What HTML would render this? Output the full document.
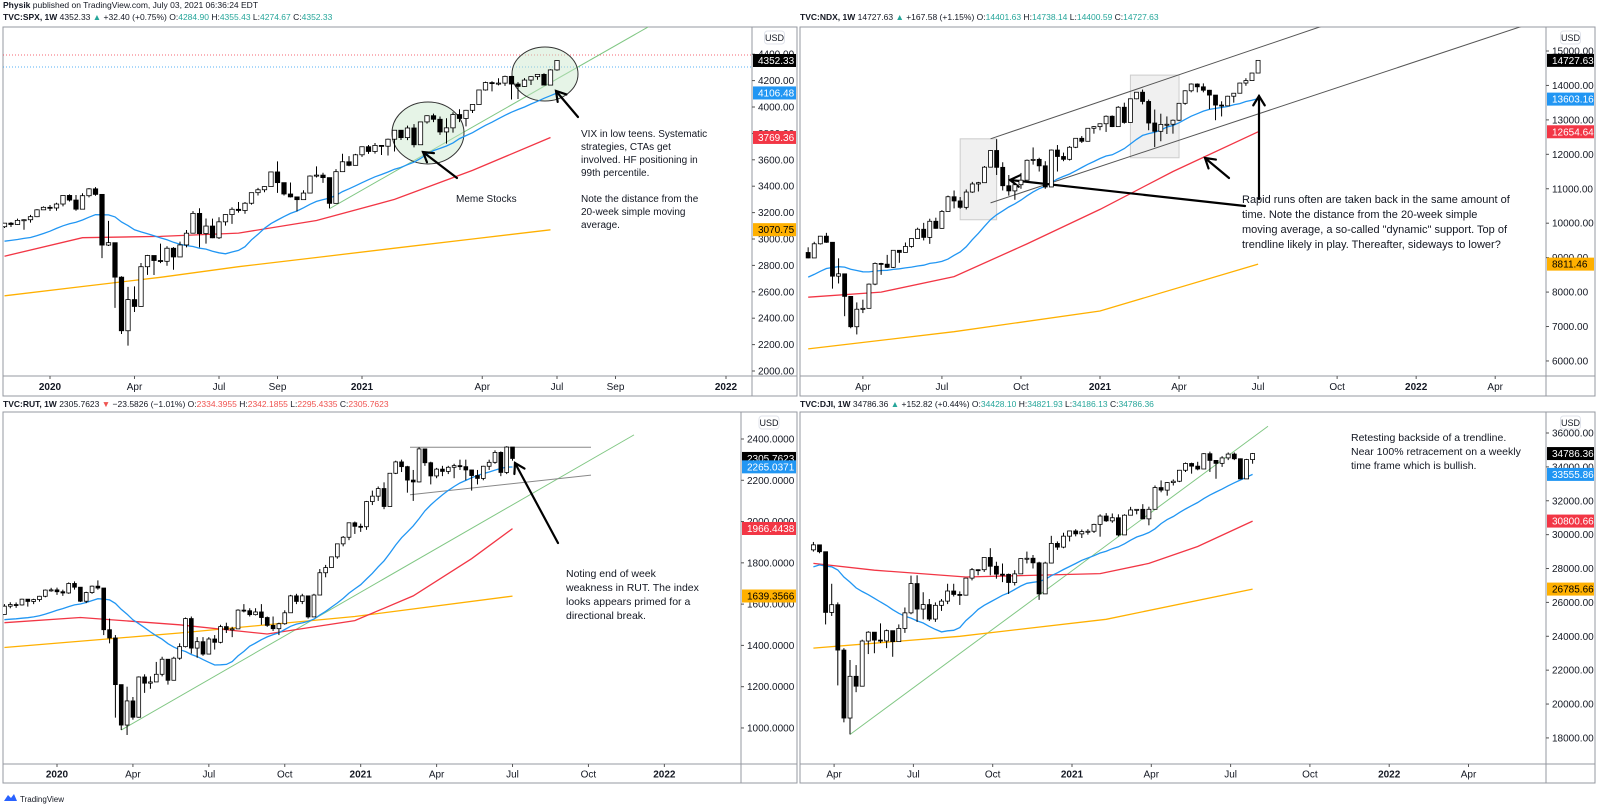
<!DOCTYPE html>
<html><head><meta charset="utf-8"><style>
html,body{margin:0;padding:0;background:#fff;width:1600px;height:805px;overflow:hidden}
svg{display:block;font-family:"Liberation Sans",Arial,sans-serif}
</style></head><body>
<svg id="c" width="1600" height="805" xmlns="http://www.w3.org/2000/svg">
<text x="3" y="8" font-size="8.5" fill="#131722"><tspan font-weight="bold">Physik</tspan> published on TradingView.com, July 03, 2021 06:36:24 EDT</text>
<text x="3" y="20" font-size="8.5" fill="#131722"><tspan font-weight="bold">TVC:SPX, 1W</tspan> 4352.33 <tspan fill="#26a69a">▲</tspan> +32.40 (+0.75%) O:<tspan fill="#26a69a">4284.90</tspan> H:<tspan fill="#26a69a">4355.43</tspan> L:<tspan fill="#26a69a">4274.67</tspan> C:<tspan fill="#26a69a">4352.33</tspan></text>
<text x="800" y="20" font-size="8.5" fill="#131722"><tspan font-weight="bold">TVC:NDX, 1W</tspan> 14727.63 <tspan fill="#26a69a">▲</tspan> +167.58 (+1.15%) O:<tspan fill="#26a69a">14401.63</tspan> H:<tspan fill="#26a69a">14738.14</tspan> L:<tspan fill="#26a69a">14400.59</tspan> C:<tspan fill="#26a69a">14727.63</tspan></text>
<text x="3" y="407" font-size="8.5" fill="#131722"><tspan font-weight="bold">TVC:RUT, 1W</tspan> 2305.7623 <tspan fill="#ef5350">▼</tspan> −23.5826 (−1.01%) O:<tspan fill="#ef5350">2334.3955</tspan> H:<tspan fill="#ef5350">2342.1855</tspan> L:<tspan fill="#ef5350">2295.4335</tspan> C:<tspan fill="#ef5350">2305.7623</tspan></text>
<text x="800" y="407" font-size="8.5" fill="#131722"><tspan font-weight="bold">TVC:DJI, 1W</tspan> 34786.36 <tspan fill="#26a69a">▲</tspan> +152.82 (+0.44%) O:<tspan fill="#26a69a">34428.10</tspan> H:<tspan fill="#26a69a">34821.93</tspan> L:<tspan fill="#26a69a">34186.13</tspan> C:<tspan fill="#26a69a">34786.36</tspan></text>
<g><path d="M4 801 l4 -6 l3 3 l3 -4 l3 7 z" fill="#2962ff"/><text x="20" y="802" font-size="8" fill="#131722">TradingView</text></g>
</svg>
<script>
// ===== SPX data (weekly, from Nov 15 2019) =====
const spxClose=[3120,3110,3141,3146,3169,3221,3240,3235,3265,3330,3295,3226,3328,3380,3338,2954,2972,2711,2305,2541,2489,2790,2875,2837,2831,2930,2864,2955,3044,3194,3041,3098,3009,3130,3185,3225,3216,3271,3351,3373,3397,3508,3427,3341,3319,3298,3348,3477,3484,3465,3270,3510,3585,3558,3638,3699,3663,3709,3703,3756,3824,3768,3841,3714,3887,3934,3907,3811,3842,3943,3913,3975,4019,4129,4185,4180,4181,4232,4174,4156,4204,4230,4247,4166,4281,4352.33];
const spxHigh=[3121,3128,3154,3150,3183,3226,3247,3258,3275,3330,3338,3333,3347,3385,3393,3259,3137,2882,2718,2637,2641,2818,2880,2870,2965,2945,2938,2980,3068,3211,3233,3155,3154,3165,3187,3240,3280,3280,3352,3387,3399,3509,3588,3425,3428,3320,3369,3482,3550,3502,3464,3529,3646,3628,3645,3701,3712,3727,3711,3760,3826,3823,3859,3870,3887,3937,3950,3928,3915,3960,3983,3978,4020,4130,4192,4195,4218,4238,4236,4188,4219,4233,4249,4256,4286,4355];
const spxLow=[3083,3091,3107,3070,3124,3166,3220,3212,3214,3247,3284,3214,3234,3315,3328,2855,2947,2478,2280,2192,2447,2497,2728,2727,2817,2797,2767,2900,2937,3044,2937,2965,3007,3000,3101,3115,3200,3191,3260,3330,3354,3398,3349,3330,3314,3209,3304,3357,3466,3425,3233,3279,3511,3551,3558,3622,3645,3647,3636,3633,3663,3750,3749,3694,3725,3874,3885,3789,3723,3806,3885,3853,3955,4020,4124,4118,4164,4160,4057,4061,4153,4167,4206,4164,4165,4275];
const spxPre=[2990,3013,2977,3026,2932,2919,2889,2847,2926,2979,3007,2992,2961,2952,2970,2986,3023,3067,3093];
const spxRedIdx=[0,12,24,36,48,60,72,84];
const spxRedVal=[2870,3010,3020,3045,3140,3300,3520,3769];
const spxOrgIdx=[0,12,24,36,48,60,72,84];
const spxOrgVal=[2570,2640,2710,2790,2860,2930,3000,3070];
const spxTicks=[2000,2200,2400,2600,2800,3000,3200,3400,3600,3800,4000,4200,4400,4600];
const spxTags=[4352.33,4106.48,3769.36,3070.75];
const spxTimeLabels=['2020','Apr','Jul','Sep','2021','Apr','Jul','Sep','2022'];
const spxTimeWeeks=[0,13,26,35,48,66.5,78,87,104];

// ===== NDX data (weekly, from Jan 31 2020) =====
const ndxClose=[8991,9402,9623,9446,8462,8530,7875,6994,7502,7528,8231,8832,8810,8718,9213,9152,9325,9555,9824,9588,10056,9850,10341,10768,10646,10461,10905,11139,11176,11627,12111,11622,11088,10938,11117,11249,11827,11853,11666,11052,12124,11937,11855,12205,12465,12378,12756,12804,12888,13105,12804,13367,12925,13612,13803,13535,12909,12668,12868,12873,12990,13481,13845,14041,13960,13861,13720,13430,13407,13687,13774,14069,14141,14360,14727.63];
const ndxHigh=[9300,9460,9630,9720,9300,8980,8380,7800,7700,7780,8250,8860,8850,9080,9220,9200,9440,9560,9870,10010,10130,10160,10380,10800,10950,10760,10980,11200,11200,11660,12120,12440,11770,11400,11180,11460,11850,12200,11900,11800,12140,12270,12050,12240,12470,12530,12760,12820,12900,13130,13130,13400,13500,13620,13810,13880,13590,13300,13180,13100,13010,13490,13860,14060,14060,14060,13870,13710,13540,13700,13780,14080,14210,14370,14738];
const ndxLow=[8980,9000,9380,9430,8100,8250,7300,6950,6770,7390,7580,8200,8500,8700,8700,8850,9250,9290,9550,9500,9400,9840,9840,10340,10430,10420,10400,10880,10920,11170,11630,11400,10950,10800,10680,11000,11260,11700,11500,11000,11070,11500,11800,11820,12180,12330,12420,12600,12700,12650,12790,12870,12890,12990,13600,13450,12700,12210,12380,12590,12600,12970,13440,13800,13800,13800,13310,12990,13100,13460,13500,13770,13990,14130,14401];
const ndxPre=[7850,7800,7850,7900,8050,8100,8200,8280,8300,8250,8390,8440,8600,8730,8780,8800,9090,9170,9150];
const ndxRedIdx=[0,12,24,36,48,60,74];
const ndxRedVal=[7850,8000,8450,9400,10400,11500,12654];
const ndxOrgIdx=[0,24,48,74];
const ndxOrgVal=[6350,6850,7450,8811];
const ndxTicks=[6000,7000,8000,9000,10000,11000,12000,13000,14000,15000];
const ndxTags=[14727.63,13603.16,12654.64,8811.46];
const ndxTimeLabels=['Apr','Jul','Oct','2021','Apr','Jul','Oct','2022','Apr'];
const ndxTimeWeeks=[-39,-26,-13,0,13,26,39,52,65];

// ===== RUT data (weekly, from Nov 1 2019) =====
const rutClose=[1590,1598,1596,1624,1613,1622,1638,1668,1669,1660,1654,1700,1682,1614,1656,1687,1678,1476,1436,1210,1014,1131,1052,1247,1217,1223,1260,1333,1231,1338,1394,1530,1387,1418,1358,1431,1415,1491,1477,1480,1571,1568,1549,1562,1535,1497,1481,1505,1558,1640,1613,1640,1538,1644,1752,1777,1829,1892,1924,1994,1977,1975,2097,2123,2160,2073,2234,2289,2266,2201,2192,2352,2285,2221,2254,2243,2263,2271,2266,2250,2223,2209,2268,2287,2335,2238,2361,2305.76];
const rutHigh=[1600,1609,1608,1626,1619,1626,1640,1671,1679,1680,1670,1705,1710,1683,1660,1690,1715,1670,1530,1450,1210,1200,1150,1250,1260,1250,1320,1345,1330,1345,1410,1535,1540,1440,1440,1440,1450,1500,1510,1490,1575,1600,1580,1580,1600,1540,1540,1510,1570,1645,1650,1650,1640,1650,1770,1790,1830,1893,1930,1995,2000,1990,2100,2150,2170,2190,2235,2295,2300,2270,2250,2360,2350,2290,2260,2270,2270,2280,2300,2300,2250,2250,2270,2300,2345,2340,2365,2345];
const rutLow=[1562,1580,1582,1593,1588,1600,1612,1633,1660,1645,1640,1650,1670,1610,1605,1650,1670,1450,1410,1050,990,966,1040,1050,1170,1190,1230,1250,1210,1230,1330,1390,1360,1340,1350,1360,1380,1410,1460,1440,1480,1560,1540,1545,1500,1490,1470,1450,1500,1560,1600,1600,1530,1540,1660,1730,1780,1820,1880,1910,1940,1950,1960,2080,2100,2060,2080,2230,2240,2140,2100,2190,2270,2180,2210,2220,2230,2210,2250,2200,2150,2180,2200,2250,2280,2220,2230,2295];
const rutPre=[1550,1560,1570,1560,1550,1530,1500,1490,1470,1490,1505,1520,1530,1510,1500,1490,1520,1510,1550];
const rutRedIdx=[0,13,30,45,60,70,80,87];
const rutRedVal=[1510,1535,1500,1455,1520,1640,1820,1966];
const rutOrgIdx=[0,30,60,87];
const rutOrgVal=[1390,1460,1540,1639];
const rutTicks=[1000,1200,1400,1600,1800,2000,2200,2400];
const rutTags=[2305.7623,2265.0371,1966.4438,1639.3566];
const rutTimeLabels=['2020','Apr','Jul','Oct','2021','Apr','Jul','Oct','2022','Apr'];
const rutTimeWeeks=[0,13,26,39,52,65,78,91,104,117];

// ===== DJI data (weekly, from Feb 14 2020) =====
const djiClose=[29398,28992,25409,25865,23186,19174,21637,21053,23720,24242,23775,23724,24331,23685,24465,25383,27111,25606,25871,25016,25827,26075,26672,26470,26428,27433,27931,27930,28654,28133,27666,27657,27174,27683,28587,28606,28336,26502,28323,29480,29263,29910,30218,30046,30179,30200,30606,31098,30814,30997,29983,31148,31458,31494,30932,31496,32779,32628,33073,33153,33801,34200,34043,33875,34778,34382,34208,34529,34756,34480,33290,34433,34786.36];
const djiHigh=[29568,29410,29000,27100,26000,23300,22600,22300,23800,24300,24100,24760,24400,24300,24700,25700,27580,27600,26600,26200,26000,26200,27100,27100,26650,27450,28030,27950,28670,29200,28400,28300,27700,27900,28600,29000,28800,28400,28400,29930,29600,30110,30220,30320,30300,30320,30640,31200,31270,31250,31200,31200,31640,31500,31800,31650,32900,33200,33100,33260,33820,34260,34250,34300,34810,34900,34400,34630,34850,34850,34500,34470,34821];
const djiLow=[29000,28900,24700,25200,21100,18920,18210,20700,21050,22950,23000,23600,23300,22790,24100,24200,25300,24850,25000,24900,24850,25500,25900,26350,25850,26400,27300,27600,27800,27600,27400,27200,26500,27000,27700,28300,28000,26150,26500,28300,29100,29200,29600,29900,29800,30000,30100,29880,30750,30700,29900,30000,31150,31200,30900,30550,31500,32500,32300,32900,33100,33700,33600,33800,33900,33700,33300,34000,34400,34400,33270,33300,34186];
const djiPre=[26573,26817,26770,26958,27347,27681,27875,28004,28051,28015,28135,28455,28645,28634,28823,29348,28990,28256,29102];
const djiRedIdx=[0,10,25,47,55,63,72];
const djiRedVal=[28300,27900,27500,27700,28300,29300,30800];
const djiOrgIdx=[0,24,48,72];
const djiOrgVal=[23300,24000,25000,26785];
const djiTicks=[18000,20000,22000,24000,26000,28000,30000,32000,34000,36000];
const djiTags=[34786.36,33555.86,30800.66,26785.66];
const djiTimeLabels=['Apr','Jul','Oct','2021','Apr','Jul','Oct','2022','Apr'];
const djiTimeWeeks=[-39,-26,-13,0,13,26,39,52,65];

const NS='http://www.w3.org/2000/svg';
const svg=document.getElementById('c');
function mk(tag,attrs,parent){const e=document.createElementNS(NS,tag);for(const k in attrs)e.setAttribute(k,attrs[k]);(parent||svg).appendChild(e);return e;}

const panels=[
 {id:'spx',cx0:3,cx1:752,ax1:797,cy0:27,cy1:376,cy2:396,dec:2,
  bx:i=>50+(i-7)*6.5, tx:w=>50+w*6.5, py:v=>107+(4000-v)*0.132,
  close:spxClose,high:spxHigh,low:spxLow,pre:spxPre,redI:spxRedIdx,redV:spxRedVal,orgI:spxOrgIdx,orgV:spxOrgVal,
  ticks:spxTicks,tags:spxTags,tl:spxTimeLabels,tw:spxTimeWeeks,cw:4.4},
 {id:'ndx',cx0:800,cx1:1546,ax1:1595,cy0:27,cy1:376,cy2:396,dec:2,
  bx:i=>1100+(i-48)*6.08, tx:w=>1100+w*6.08, py:v=>51+(15000-v)*0.03444,
  close:ndxClose,high:ndxHigh,low:ndxLow,pre:ndxPre,redI:ndxRedIdx,redV:ndxRedVal,orgI:ndxOrgIdx,orgV:ndxOrgVal,
  ticks:ndxTicks,tags:ndxTags,tl:ndxTimeLabels,tw:ndxTimeWeeks,cw:4},
 {id:'rut',cx0:3,cx1:741,ax1:797,cy0:412,cy1:764,cy2:783,dec:4,
  bx:i=>57+(i-9)*5.84, tx:w=>57+w*5.84, py:v=>439+(2400-v)*0.2064,
  close:rutClose,high:rutHigh,low:rutLow,pre:rutPre,redI:rutRedIdx,redV:rutRedVal,orgI:rutOrgIdx,orgV:rutOrgVal,
  ticks:rutTicks,tags:rutTags,tl:rutTimeLabels,tw:rutTimeWeeks,cw:3.8},
 {id:'dji',cx0:800,cx1:1546,ax1:1595,cy0:412,cy1:764,cy2:783,dec:2,
  bx:i=>1094+(i-46)*6.1, tx:w=>1072+w*6.1, py:v=>433+(36000-v)*0.01694,
  close:djiClose,high:djiHigh,low:djiLow,pre:djiPre,redI:djiRedIdx,redV:djiRedVal,orgI:djiOrgIdx,orgV:djiOrgVal,
  ticks:djiTicks,tags:djiTags,tl:djiTimeLabels,tw:djiTimeWeeks,cw:4}
];

const gridColor='#9598a1';
panels.forEach(p=>{
  const g=mk('g',{});
  
  
  const clip=mk('clipPath',{id:'clip-'+p.id},g);
  mk('rect',{x:p.cx0,y:p.cy0,width:p.cx1-p.cx0,height:p.cy1-p.cy0},clip);
  const fr=mk('rect',{x:p.cx0,y:p.cy0,width:p.ax1-p.cx0,height:p.cy2-p.cy0,fill:'none',stroke:gridColor,'stroke-width':1},g);
  
  
  mk('line',{x1:p.cx1,y1:p.cy0,x2:p.cx1,y2:p.cy2,stroke:gridColor},g);
  mk('line',{x1:p.cx0,y1:p.cy1,x2:p.ax1,y2:p.cy1,stroke:gridColor},g);
  const plot=mk('g',{'clip-path':'url(#clip-'+p.id+')'},g);
  
  
  p.under=mk('g',{},plot);
  const all=p.pre.concat(p.close);
  let pts=[];
  for(let i=0;i<p.close.length;i++){
    let s=0;for(let k=i;k<i+20;k++)s+=all[k];
    pts.push(p.bx(i).toFixed(1)+','+p.py(s/20).toFixed(1));
  }
  const org=mk('polyline',{points:p.orgI.map((d,k)=>p.bx(d).toFixed(1)+','+p.py(p.orgV[k]).toFixed(1)).join(' '),fill:'none',stroke:'#ffb000','stroke-width':1.3},plot);
  
  
  const red=mk('polyline',{points:p.redI.map((d,k)=>p.bx(d).toFixed(1)+','+p.py(p.redV[k]).toFixed(1)).join(' '),fill:'none',stroke:'#f23645','stroke-width':1.3},plot);
  
  
  const blue=mk('polyline',{points:pts.join(' '),fill:'none',stroke:'#2196f3','stroke-width':1.3},plot);
  
  
  p.over=mk('g',{},plot);
  const cg=mk('g',{},plot);
  for(let i=0;i<p.close.length;i++){
    const o=i===0?p.pre[p.pre.length-1]:p.close[i-1], c=p.close[i];
    const x=p.bx(i);
    const w=mk('line',{x1:x,x2:x,y1:p.py(p.high[i]),y2:p.py(p.low[i]),stroke:'#000','stroke-width':1},cg);
    
    
    const yt=p.py(Math.max(o,c)), yb=p.py(Math.min(o,c));
    const b=mk('rect',{x:x-p.cw/2,y:yt,width:p.cw,height:Math.max(1,yb-yt),fill:c>=o?'#fff':'#000',stroke:'#000','stroke-width':0.8},cg);
    
    
  }
  p.ticks.forEach(t=>{
    const y=p.py(t); if(y<p.cy0+2||y>p.cy1-2)return;
    mk('line',{x1:p.cx1,x2:p.cx1+3,y1:y,y2:y,stroke:'#555'},g);
    const tx=mk('text',{x:p.cx1+6,y:y+3.5,'font-size':10,fill:'#131722'},g);
    tx.textContent=t.toFixed(p.dec);
    
    
  });
  const ux=(p.cx1+p.ax1)/2;
  mk('rect',{x:ux-10,y:p.cy0+4,width:20,height:13,rx:3,fill:'#fff',stroke:'#e0e3eb'},g);
  const ut=mk('text',{x:ux,y:p.cy0+14,'font-size':9,'text-anchor':'middle',fill:'#131722'},g);
  ut.textContent='USD';
  
  
  const cols=['#000','#2196f3','#f23645','#ffb000'];
  p.tags.forEach((v,k)=>{
    const y=p.py(v);
    const r=mk('rect',{x:p.cx1+1,y:y-6.5,width:p.ax1-p.cx1-2,height:13,fill:cols[k]},g);
    
    
    const t=mk('text',{x:p.cx1+6,y:y+3.5,'font-size':10,fill:k===3?'#000':'#fff'},g);
    t.textContent=v.toFixed(p.dec);
    
    
  });
  p.tl.forEach((lab,k)=>{
    const x=p.tx(p.tw[k]); if(x>p.cx1-4)return;
    mk('line',{x1:x,x2:x,y1:p.cy1,y2:p.cy1+3,stroke:'#555'},g);
    const t=mk('text',{x:x,y:(p.cy1+p.cy2)/2+4,'font-size':10,'text-anchor':'middle',fill:'#131722','font-weight':/^\d/.test(lab)?'bold':'normal'},g);
    t.textContent=lab;
    
    
  });
});

function arrow(parent,x1,y1,x2,y2,name){
  const g=mk('g',{stroke:'#000','stroke-width':2.2,fill:'none','stroke-linecap':'round'},parent);
  
  
  mk('line',{x1:x1,y1:y1,x2:x2,y2:y2},g);
  const a=Math.atan2(y2-y1,x2-x1),L=11,s=0.55;
  mk('polyline',{points:(x2-L*Math.cos(a-s))+','+(y2-L*Math.sin(a-s))+' '+x2+','+y2+' '+(x2-L*Math.cos(a+s))+','+(y2-L*Math.sin(a+s))},g);
}
function note(parent,x,y,lines,size,lh,name){
  const t=mk('text',{x:x,y:y,'font-size':size,fill:'#131722'},parent);
  
  
  lines.forEach((l,k)=>{const s=mk('tspan',{x:x,y:y+k*lh},t);s.textContent=l;});
}
const P=panels;
// SPX annotations
mk('line',{x1:3,x2:752,y1:55,y2:55,stroke:'#f23645','stroke-dasharray':'1,2','stroke-width':0.8},P[0].under);
mk('line',{x1:3,x2:752,y1:67,y2:67,stroke:'#2196f3','stroke-dasharray':'1,2','stroke-width':0.8},P[0].under);
const tl1=mk('line',{x1:P[0].bx(50),y1:P[0].py(3230),x2:P[0].bx(102),y2:P[0].py(4690),stroke:'#81c784','stroke-width':1},P[0].under);


const e1=mk('ellipse',{cx:428,cy:133,rx:36,ry:31,fill:'rgba(200,230,201,0.45)',stroke:'#333','stroke-width':1},P[0].under);


const e2=mk('ellipse',{cx:545,cy:74,rx:33,ry:27,fill:'rgba(200,230,201,0.45)',stroke:'#333','stroke-width':1},P[0].under);


arrow(P[0].over,457,178,423,152,'meme-stocks-arrow');
arrow(P[0].over,578,117,556,91,'vix-arrow');
note(P[0].over,456,202,['Meme Stocks'],10,13,'meme-stocks-note');
note(P[0].over,581,137,['VIX in low teens. Systematic','strategies, CTAs get','involved. HF positioning in','99th percentile.','','Note the distance from the','20-week simple moving','average.'],10,13,'spx-note');
// NDX annotations
const bx1=mk('rect',{x:P[1].bx(25),y:P[1].py(12450),width:P[1].bx(31)-P[1].bx(25),height:P[1].py(10100)-P[1].py(12450),fill:'#f0f0f0',stroke:'#ccc'},P[1].under);


const bx2=mk('rect',{x:P[1].bx(53),y:P[1].py(14300),width:P[1].bx(61)-P[1].bx(53),height:P[1].py(11900)-P[1].py(14300),fill:'#f0f0f0',stroke:'#ccc'},P[1].under);


const ch1=mk('line',{x1:P[1].bx(30),y1:P[1].py(12450),x2:1330,y2:P[1].py(15800),stroke:'#555','stroke-width':1},P[1].under);


const ch2=mk('line',{x1:P[1].bx(30),y1:P[1].py(10590),x2:1546,y2:P[1].py(15950),stroke:'#555','stroke-width':1},P[1].under);


arrow(P[1].over,1245,206,1010,180,'ndx-left-arrow');
arrow(P[1].over,1259,199,1259,96,'ndx-up-arrow');
arrow(P[1].over,1229,178,1205,158,'ndx-small-arrow');
note(P[1].over,1242,203,['Rapid runs often are taken back in the same amount of','time. Note the distance from the 20-week simple','moving average, a so-called "dynamic" support. Top of','trendline likely in play. Thereafter, sideways to lower?'],11,15,'ndx-note');
// RUT annotations
const tl3=mk('line',{x1:P[2].bx(20),y1:P[2].py(990),x2:634,y2:P[2].py(2420),stroke:'#81c784','stroke-width':1},P[2].under);


mk('line',{x1:410,y1:P[2].py(2360),x2:591,y2:P[2].py(2360),stroke:'#888','stroke-width':1},P[2].under);
mk('line',{x1:410,y1:P[2].py(2130),x2:591,y2:P[2].py(2225),stroke:'#888','stroke-width':1},P[2].under);
arrow(P[2].over,558,543,515,463,'rut-arrow');
note(P[2].over,566,577,['Noting end of week','weakness in RUT. The index','looks appears primed for a','directional break.'],10.5,14,'rut-note');
// DJI annotations
const tl4=mk('line',{x1:P[3].bx(6),y1:P[3].py(18200),x2:1268,y2:P[3].py(36400),stroke:'#81c784','stroke-width':1},P[3].under);


note(P[3].over,1351,441,['Retesting backside of a trendline.','Near 100% retracement on a weekly','time frame which is bullish.'],10.5,14,'dji-note');
</script>
</body></html>
